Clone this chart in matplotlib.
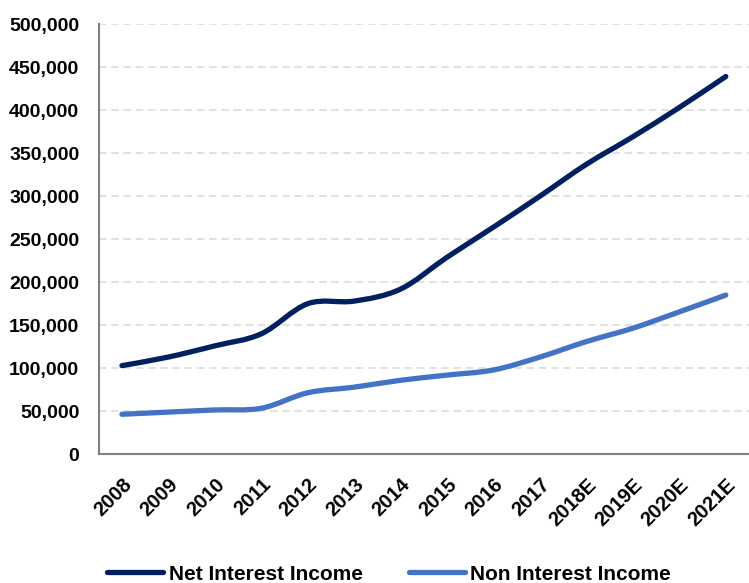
import matplotlib
matplotlib.use("Agg")
import matplotlib.pyplot as plt
from matplotlib.path import Path
from matplotlib.patches import PathPatch
from matplotlib.lines import Line2D
from matplotlib.ticker import FuncFormatter, MultipleLocator

plt.rcParams['font.family'] = ['Liberation Sans', 'DejaVu Sans']

years = ['2008', '2009', '2010', '2011', '2012', '2013', '2014',
         '2015', '2016', '2017', '2018E', '2019E', '2020E', '2021E']
net_interest = [103000, 113000, 126000, 140000, 175000, 178000, 192000,
                229000, 264000, 300000, 337000, 369000, 403000, 439000]
non_interest = [46500, 49000, 51500, 53500, 71500, 78000, 86000,
                92000, 98000, 113000, 131000, 146500, 165500, 185000]

NAVY = '#002060'
BLUE = '#4472C4'


def smooth_path(xs, ys):
    # bezier segments through each point, Excel-style smoothed line
    pts = list(zip(xs, ys))
    verts = [pts[0]]
    codes = [Path.MOVETO]
    n = len(pts)
    for i in range(n - 1):
        p0 = pts[i - 1] if i > 0 else pts[i]
        p1 = pts[i]
        p2 = pts[i + 1]
        p3 = pts[i + 2] if i + 2 < n else pts[i + 1]
        c1 = (p1[0] + (p2[0] - p0[0]) / 6, p1[1] + (p2[1] - p0[1]) / 6)
        c2 = (p2[0] - (p3[0] - p1[0]) / 6, p2[1] - (p3[1] - p1[1]) / 6)
        verts += [c1, c2, p2]
        codes += [Path.CURVE4] * 3
    return Path(verts, codes)


fig = plt.figure(figsize=(7.49, 5.83), dpi=100)
ax = fig.add_axes([0.1318, 0.2208, 0.8682, 0.738])

x = list(range(len(years)))
for vals, col in [(net_interest, NAVY), (non_interest, BLUE)]:
    ax.add_patch(PathPatch(smooth_path(x, vals), fill=False, edgecolor=col,
                           lw=3.8, capstyle='round', joinstyle='round', zorder=3))

ax.set_xlim(-0.5, len(years) - 0.5)
ax.set_ylim(0, 500000)
ax.yaxis.set_major_locator(MultipleLocator(50000))
ax.yaxis.set_major_formatter(FuncFormatter(lambda v, p: f'{int(v):,}'))
ax.set_xticks(x)
ax.set_xticklabels(years, rotation=45, ha='right', rotation_mode='anchor')

ax.grid(axis='y', color='#d9d9d9', lw=1.1, linestyle=(0, (5, 3)))
ax.set_axisbelow(True)
for s in ['top', 'right']:
    ax.spines[s].set_visible(False)
for s in ['left', 'bottom']:
    ax.spines[s].set_color('#808080')
    ax.spines[s].set_linewidth(1.5)
ax.tick_params(length=0, labelsize=14)
ax.tick_params(axis='x', pad=15, labelsize=14.5)
ax.tick_params(axis='y', pad=14)
for lbl in ax.get_xticklabels() + ax.get_yticklabels():
    lbl.set_fontweight('bold')
    lbl.set_color('#000000')

handles = [Line2D([], [], color=NAVY, lw=3.8, solid_capstyle='round'),
           Line2D([], [], color=BLUE, lw=3.8, solid_capstyle='round')]
fig.legend(handles, ['Net Interest Income', 'Non Interest Income'],
           loc='center', bbox_to_anchor=(389 / 749, 1 - 574 / 583), ncol=2,
           frameon=False, prop={'size': 15, 'weight': 'bold'},
           handlelength=2.7, handletextpad=0.25, columnspacing=2.2)

fig.savefig('out.png', dpi=100)
